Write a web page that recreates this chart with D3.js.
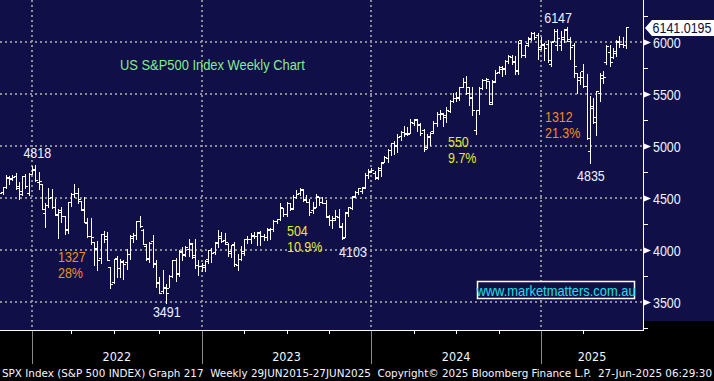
<!DOCTYPE html>
<html><head><meta charset="utf-8">
<script src="https://cdn.jsdelivr.net/npm/d3@7"></script>
<style>html,body{margin:0;padding:0;background:#000;overflow:hidden}</style>
</head><body><svg id="c" width="714" height="381"></svg>
<script>
// ---------- DATA (weekly S&P 500 bars, week-ending dates) ----------
const weekEnding = [
"2021-10-22","2021-10-29","2021-11-05","2021-11-12","2021-11-19","2021-11-26","2021-12-03","2021-12-10","2021-12-17","2021-12-23","2021-12-31",
"2022-01-07","2022-01-14","2022-01-21","2022-01-28","2022-02-04","2022-02-11","2022-02-18","2022-02-25","2022-03-04","2022-03-11","2022-03-18","2022-03-25","2022-04-01","2022-04-08","2022-04-14","2022-04-22","2022-04-29","2022-05-06","2022-05-13","2022-05-20","2022-05-27","2022-06-03","2022-06-10","2022-06-17","2022-06-24","2022-07-01","2022-07-08","2022-07-15","2022-07-22","2022-07-29","2022-08-05","2022-08-12","2022-08-19","2022-08-26","2022-09-02","2022-09-09","2022-09-16","2022-09-23","2022-09-30","2022-10-07","2022-10-14","2022-10-21","2022-10-28","2022-11-04","2022-11-11","2022-11-18","2022-11-25","2022-12-02","2022-12-09","2022-12-16","2022-12-23","2022-12-30",
"2023-01-06","2023-01-13","2023-01-20","2023-01-27","2023-02-03","2023-02-10","2023-02-17","2023-02-24","2023-03-03","2023-03-10","2023-03-17","2023-03-24","2023-03-31","2023-04-06","2023-04-14","2023-04-21","2023-04-28","2023-05-05","2023-05-12","2023-05-19","2023-05-26","2023-06-02","2023-06-09","2023-06-16","2023-06-23","2023-06-30","2023-07-07","2023-07-14","2023-07-21","2023-07-28","2023-08-04","2023-08-11","2023-08-18","2023-08-25","2023-09-01","2023-09-08","2023-09-15","2023-09-22","2023-09-29","2023-10-06","2023-10-13","2023-10-20","2023-10-27","2023-11-03","2023-11-10","2023-11-17","2023-11-24","2023-12-01","2023-12-08","2023-12-15","2023-12-22","2023-12-29",
"2024-01-05","2024-01-12","2024-01-19","2024-01-26","2024-02-02","2024-02-09","2024-02-16","2024-02-23","2024-03-01","2024-03-08","2024-03-15","2024-03-22","2024-03-28","2024-04-05","2024-04-12","2024-04-19","2024-04-26","2024-05-03","2024-05-10","2024-05-17","2024-05-24","2024-05-31","2024-06-07","2024-06-14","2024-06-21","2024-06-28","2024-07-05","2024-07-12","2024-07-19","2024-07-26","2024-08-02","2024-08-09","2024-08-16","2024-08-23","2024-08-30","2024-09-06","2024-09-13","2024-09-20","2024-09-27","2024-10-04","2024-10-11","2024-10-18","2024-10-25","2024-11-01","2024-11-08","2024-11-15","2024-11-22","2024-11-29","2024-12-06","2024-12-13","2024-12-20","2024-12-27",
"2025-01-03","2025-01-10","2025-01-17","2025-01-24","2025-01-31","2025-02-07","2025-02-14","2025-02-21","2025-02-28","2025-03-07","2025-03-14","2025-03-21","2025-03-28","2025-04-04","2025-04-11","2025-04-17","2025-04-25","2025-05-02","2025-05-09","2025-05-16","2025-05-23","2025-05-30","2025-06-06","2025-06-13","2025-06-20","2025-06-27"];

const openPx = [
4471,4553,4610,4701,4689,4712,4620,4572,4710,4548,4733,
4778,4655,4632,4356,4431,4505,4412,4332,4363,4327,4188,4462,4542,4547,4474,4385,4256,4130,4081,4013,3920,4153,4134,3838,3696,3920,3831,3880,3883,3966,4113,4141,4275,4195,4042,3910,4083,3869,3682,3610,3636,3638,3753,3901,3779,3982,3956,4005,4053,3954,3853,3843,
3853,3911,4003,3978,4074,4119,4096,4060,3992,4055,3855,3917,3986,4103,4110,4140,4132,4166,4136,4126,4198,4206,4282,4298,4404,4344,4450,4404,4505,4544,4578,4492,4464,4389,4415,4511,4463,4453,4325,4284,4289,4321,4226,4123,4364,4407,4515,4554,4569,4593,4725,4759,
4745,4703,4772,4848,4888,4957,5026,5003,5093,5132,5111,5123,5220,5258,5211,5150,4988,5084,5142,5224,5308,5315,5297,5341,5432,5459,5471,5572,5616,5565,5472,5151,5345,5557,5637,5624,5421,5615,5712,5757,5737,5816,5857,5822,5724,6016,5874,5993,6040,6090,6064,5955,
5982,5982,5788,6014,5969,5969,6046,6121,6026,5969,5705,5665,5718,5581,4953,5389,5232,5508,5655,5808,5902,5854,5897,6010,5984,5972];

const highPx = [
4559,4608,4718,4712,4718,4744,4653,4713,4731,4740,4809,
4819,4749,4632,4454,4596,4589,4490,4395,4416,4327,4466,4546,4637,4593,4472,4512,4309,4308,4081,4090,4158,4178,4169,3838,3913,3946,3918,3903,4012,4141,4168,4280,4326,4204,4062,4076,4140,3907,3736,3806,3675,3762,3905,3920,3999,4028,4034,4101,4066,4101,3907,3877,
3906,4004,4016,4078,4195,4176,4163,4065,4048,4079,3966,4039,4110,4133,4164,4169,4170,4187,4154,4212,4213,4291,4298,4449,4408,4458,4456,4528,4578,4594,4584,4527,4490,4458,4541,4514,4511,4481,4338,4324,4385,4393,4256,4366,4415,4521,4568,4599,4609,4738,4778,4793,
4755,4799,4843,4908,4975,5030,5048,5111,5141,5190,5180,5262,5264,5263,5222,5168,5114,5139,5240,5325,5342,5315,5375,5447,5506,5524,5570,5655,5670,5566,5566,5349,5563,5643,5651,5626,5636,5733,5767,5765,5823,5878,5878,5863,6012,6018,5973,6044,6099,6092,6085,6050,
5986,6022,6001,6128,6121,6101,6127,6147,6044,5987,5705,5715,5786,5695,5481,5459,5528,5700,5720,5969,5968,5944,6017,6059,6050,6145];

const lowPx = [
4447,4537,4595,4630,4672,4585,4495,4532,4600,4532,4733,
4663,4582,4395,4222,4414,4401,4334,4115,4267,4157,4162,4425,4506,4450,4381,4268,4128,4062,3859,3811,3875,4073,3900,3637,3684,3738,3742,3721,3818,3911,4079,4107,4218,4058,3907,3886,3838,3647,3584,3590,3491,3647,3737,3699,3751,3906,3938,3938,3919,3828,3764,3800,
3794,3877,3885,3958,4025,4079,4060,3943,3928,3847,3809,3908,3954,4069,4072,4114,4049,4048,4099,4099,4103,4181,4261,4293,4328,4328,4385,4399,4503,4530,4474,4457,4335,4356,4415,4430,4450,4316,4238,4216,4284,4224,4104,4122,4329,4396,4513,4537,4546,4593,4697,4751,
4682,4682,4714,4845,4845,4918,4920,4946,5057,5094,5105,5121,5204,5146,5107,4954,4983,5011,5127,5196,5257,5191,5234,5325,5427,5433,5445,5565,5497,5391,5302,5120,5307,5550,5560,5402,5406,5614,5698,5674,5692,5801,5786,5696,5696,5853,5854,5964,6024,6030,5832,5933,
5824,5809,5774,6013,5923,5924,6004,6009,5837,5667,5505,5597,5572,5069,4835,5220,5101,5433,5603,5786,5767,5843,5862,5952,5953,5943];

const closePx = [
4545,4605,4697,4683,4698,4595,4538,4712,4620,4726,4766,
4677,4662,4398,4432,4500,4418,4349,4385,4329,4204,4463,4543,4546,4488,4392,4272,4132,4123,4024,3901,4158,4109,3901,3675,3912,3825,3899,3863,3962,4130,4145,4280,4228,4058,3924,4067,3873,3693,3586,3640,3583,3753,3901,3771,3993,3965,4026,4072,3934,3852,3845,3840,
3895,3999,3973,4071,4136,4090,4079,3970,4046,3862,3917,3971,4109,4105,4138,4133,4169,4136,4124,4192,4205,4282,4299,4410,4348,4450,4399,4505,4536,4582,4478,4464,4370,4406,4515,4457,4450,4320,4288,4308,4327,4224,4117,4358,4415,4514,4559,4595,4604,4719,4754,4770,
4697,4784,4840,4891,4959,5027,5006,5089,5137,5124,5117,5234,5254,5204,5123,4967,5100,5128,5223,5303,5305,5278,5347,5432,5465,5460,5567,5615,5505,5459,5346,5344,5554,5634,5648,5408,5626,5703,5738,5751,5815,5865,5808,5729,5995,5871,5969,6032,6090,6051,5931,5971,
5942,5827,5997,6101,6041,6026,6115,6013,5955,5770,5639,5668,5581,5074,5363,5283,5525,5686,5660,5958,5803,5912,6000,5977,5967,6141];

const yTickValues = [3500, 4000, 4500, 5000, 5500, 6000];
const yMinorValues = [3250, 3750, 4250, 4750, 5250, 5750, 6250];
const yearLabels = ["2022", "2023", "2024", "2025"];
const lastPriceText = "6141.0195";
const titleText = "US S&P500 Index Weekly Chart";
const urlText = "www.marketmatters.com.au";
const footerText = "SPX Index (S&P 500 INDEX) Graph 217  Weekly 29JUN2015-27JUN2025  Copyright\u00A9 2025 Bloomberg Finance L.P.  27-Jun-2025 06:29:30";
const pointLabels = ["4818", "3491", "4103", "6147", "4835"];
const moveLabels = [["1327", "28%"], ["504", "10.9%"], ["550", "9.7%"], ["1312", "21.3%"]];

// ---------- LAYOUT ----------
const W = 714, H = 381;
const plotR = 643, plotB = 330;
const navy = "#100f48";
const svg = d3.select("#c");
const parse = d3.timeParse("%Y-%m-%d");
const dates = weekEnding.map(parse);
const n = dates.length;

const yearEndIdx = [];
dates.forEach((d, i) => { if (i < n - 1 && dates[i + 1].getFullYear() !== d.getFullYear()) yearEndIdx.push(i); });
const x = d3.scaleLinear().domain([yearEndIdx[0], yearEndIdx[3]]).range([32, 541]);
const y = d3.scaleLinear().domain([3500, 6000]).range([302, 42]);

svg.append("rect").attr("width", W).attr("height", H).attr("fill", "#000");
svg.append("rect").attr("x", 0).attr("y", 0).attr("width", plotR).attr("height", plotB).attr("fill", navy);
svg.append("rect").attr("x", plotR).attr("y", 0).attr("width", W - plotR).attr("height", 321).attr("fill", navy);

const grid = svg.append("g").attr("stroke", "#8c8c94").attr("stroke-width", 2).attr("stroke-dasharray", "2,3");
grid.selectAll("line.h").data(yTickValues).join("line")
  .attr("x1", 0).attr("x2", plotR).attr("y1", d => Math.round(y(d))).attr("y2", d => Math.round(y(d)));
grid.selectAll("line.v").data(yearEndIdx).join("line")
  .attr("x1", d => Math.round(x(d))).attr("x2", d => Math.round(x(d))).attr("y1", 0).attr("y2", plotB);

const bars = svg.append("g").attr("fill", "#ffffff").attr("shape-rendering", "crispEdges");
const idx = d3.range(n);
const bx = i => Math.round(x(i));
bars.selectAll("rect.hl").data(idx).join("rect")
  .attr("x", i => bx(i)).attr("width", 1)
  .attr("y", i => Math.round(y(highPx[i])))
  .attr("height", i => Math.max(1, Math.round(y(lowPx[i])) - Math.round(y(highPx[i])) + 1));
bars.selectAll("rect.o").data(idx).join("rect")
  .attr("x", i => bx(i) - 2).attr("width", 2).attr("height", 1)
  .attr("y", i => Math.round(y(openPx[i])));
bars.selectAll("rect.c").data(idx).join("rect")
  .attr("x", i => bx(i) + 1).attr("width", 2).attr("height", 1)
  .attr("y", i => Math.round(y(closePx[i])));

svg.append("rect").attr("x", plotR).attr("y", 0).attr("width", 1).attr("height", plotB + 1).attr("fill", "#fff");
svg.append("rect").attr("x", 0).attr("y", plotB).attr("width", plotR + 1).attr("height", 1).attr("fill", "#fff");

svg.selectAll("path.tri").data(yTickValues).join("path")
  .attr("d", d => { const yy = Math.round(y(d)) + 0.5; return `M${plotR + 1},${yy - 3}L${plotR + 8},${yy}L${plotR + 1},${yy + 3}Z`; })
  .attr("fill", "#fff");
svg.selectAll("rect.minor").data(yMinorValues).join("rect")
  .attr("x", plotR + 1).attr("width", 4).attr("height", 1)
  .attr("y", d => Math.round(y(d))).attr("fill", "#fff");

const labFont = "'Liberation Sans', Arial, sans-serif";
function squeeze(sel, f) {
  sel.each(function () { const w = this.getComputedTextLength(); d3.select(this).attr("textLength", w * f).attr("lengthAdjust", "spacingAndGlyphs"); });
  return sel;
}
const txtWhite = "#eef2ff";

squeeze(svg.selectAll("text.yl").data(yTickValues).join("text")
  .attr("x", 653).attr("y", d => Math.round(y(d)) + 5.5)
  .attr("font-family", labFont).attr("font-size", 14.5).attr("fill", txtWhite)
  .text(d => d), 0.86);

const qIdx = [];
dates.forEach((d, i) => { if (i < n - 1 && dates[i + 1].getMonth() !== d.getMonth() && [2, 5, 8].includes(d.getMonth())) qIdx.push(i); });
svg.selectAll("rect.q").data(qIdx).join("rect")
  .attr("x", i => Math.round(x(i))).attr("y", plotB + 1).attr("width", 1).attr("height", 3).attr("fill", "#fff");
svg.selectAll("rect.ys").data(yearEndIdx).join("rect")
  .attr("x", i => Math.round(x(i))).attr("y", plotB + 1).attr("width", 1).attr("height", 33).attr("fill", "#8a8a8a");
const yearCenters = yearEndIdx.map((v, k) => (x(v) + (k < 3 ? x(yearEndIdx[k + 1]) : plotR)) / 2);
svg.selectAll("text.yr").data(yearLabels).join("text")
  .attr("x", (d, k) => yearCenters[k]).attr("y", 361).attr("text-anchor", "middle")
  .attr("font-family", "'DejaVu Sans Condensed', 'DejaVu Sans', sans-serif").attr("font-size", 12.5)
  .attr("fill", "#f4f6ff").text(d => d);

svg.append("text").attr("x", 2).attr("y", 377)
  .attr("font-family", "'DejaVu Sans Condensed', 'DejaVu Sans', sans-serif").attr("font-size", 11.3)
  .attr("fill", "#f4f6ff").attr("textLength", 710).attr("lengthAdjust", "spacingAndGlyphs")
  .style("white-space", "pre").attr("xml:space", "preserve").text(footerText);

squeeze(svg.append("text").attr("x", 120).attr("y", 70)
  .attr("font-family", labFont).attr("font-size", 15).attr("fill", "#86ec8a").text(titleText), 0.86);

const pIdx = [
  highPx.indexOf(d3.max(highPx.slice(0, 30))),
  lowPx.indexOf(d3.min(lowPx)),
  lowPx.indexOf(d3.min(lowPx.slice(90, 115))),
  highPx.indexOf(d3.max(highPx)),
  lowPx.indexOf(d3.min(lowPx.slice(160)))
];
const pVal = [highPx[pIdx[0]], lowPx[pIdx[1]], lowPx[pIdx[2]], highPx[pIdx[3]], lowPx[pIdx[4]]];
const pOff = [[2, -7], [1, 14], [11, 18], [-9, -4], [1, 18]];
pointLabels.forEach((t, k) => {
  squeeze(svg.append("text").attr("x", x(pIdx[k]) + pOff[k][0]).attr("y", y(pVal[k]) + pOff[k][1])
    .attr("text-anchor", "middle").attr("font-family", labFont).attr("font-size", 14.5)
    .attr("fill", txtWhite).text(t), 0.86);
});

const movePos = [[58, 262], [287, 236], [448, 147], [545, 122]];
const moveCol = ["#f08c24", "#e6e62a", "#e6e62a", "#f08c24"];
moveLabels.forEach((pair, k) => {
  pair.forEach((t, j) => {
    squeeze(svg.append("text").attr("x", movePos[k][0]).attr("y", movePos[k][1] + j * 16)
      .attr("font-family", labFont).attr("font-size", 14.5).attr("fill", moveCol[k]).text(t), 0.86);
  });
});

svg.append("rect").attr("x", 477.5).attr("y", 281.5).attr("width", 157).attr("height", 17)
  .attr("fill", navy).attr("stroke", "#fff").attr("stroke-width", 1.5);
squeeze(svg.append("text").attr("x", 556).attr("y", 295.5).attr("text-anchor", "middle")
  .attr("font-family", labFont).attr("font-size", 15).attr("fill", "#1fe0e8").text(urlText), 0.86);

// last price tag
const ly = y(closePx[n - 1]) + 0.7;
svg.append("path")
  .attr("d", `M645,${ly}L652,${ly - 8}H714V${ly + 8}H652Z`)
  .attr("fill", "#fff");
svg.append("text").attr("x", 652.5).attr("y", ly + 5)
  .attr("font-family", labFont).attr("font-size", 14).attr("fill", "#0c0c3c")
  .attr("textLength", 59).attr("lengthAdjust", "spacingAndGlyphs").text(lastPriceText);
</script>
</body></html>
